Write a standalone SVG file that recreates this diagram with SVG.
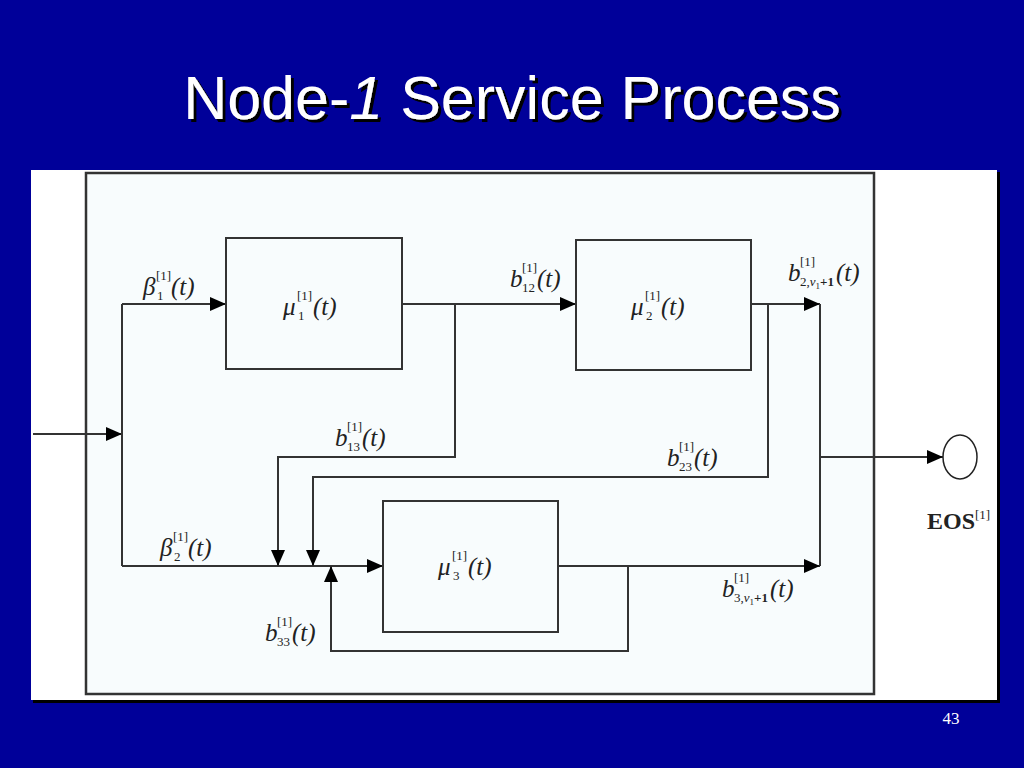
<svg xmlns="http://www.w3.org/2000/svg" width="1024" height="768" viewBox="0 0 1024 768">
<style>
.title{font-family:"Liberation Sans",Arial,sans-serif;font-size:61px;fill:#fff}
.m{font-family:"Liberation Serif","Times New Roman",serif;font-style:italic;font-size:25px;fill:#222}
.s{font-family:"Liberation Serif","Times New Roman",serif;font-size:13px;fill:#222}
.box{fill:none;stroke:#333;stroke-width:2}
.ln{fill:none;stroke:#333;stroke-width:2}
</style>
<defs>
<marker id="ar" viewBox="0 0 16 14" refX="16" refY="7" markerWidth="16" markerHeight="14" markerUnits="userSpaceOnUse" orient="auto">
<path d="M0,0 L16,7 L0,14 Z" fill="#000"/>
</marker>
<filter id="sh" x="-5%" y="-20%" width="110%" height="140%">
<feOffset in="SourceAlpha" dx="3" dy="3" result="o"/>
<feFlood flood-color="#000"/>
<feComposite in2="o" operator="in" result="s"/>
<feMerge><feMergeNode in="s"/><feMergeNode in="SourceGraphic"/></feMerge>
</filter>
</defs>
<rect x="0" y="0" width="1024" height="768" fill="#000099"/>
<text class="title" x="512" y="119" text-anchor="middle" filter="url(#sh)">Node-<tspan font-style="italic">1</tspan> Service Process</text>
<rect x="33" y="172" width="967" height="531" fill="#000"/>
<rect x="31" y="170" width="966" height="530" fill="#ffffff"/>
<rect x="86" y="173" width="788" height="521" fill="#f8fcfd" stroke="#333" stroke-width="2.5"/>

<g id="connectors">
<path class="ln" d="M33,434 H122" marker-end="url(#ar)"/>
<path class="ln" d="M122,304 V566"/>
<path class="ln" d="M122,304 H226" marker-end="url(#ar)"/>
<path class="ln" d="M122,566 H383" marker-end="url(#ar)"/>
<path class="ln" d="M402,304 H576" marker-end="url(#ar)"/>
<path class="ln" d="M455,304 V457 H278 V566" marker-end="url(#ar)"/>
<path class="ln" d="M751,304 H820" marker-end="url(#ar)"/>
<path class="ln" d="M768,304 V477 H313 V566" marker-end="url(#ar)"/>
<path class="ln" d="M820,304 V566"/>
<path class="ln" d="M820,457 H943" marker-end="url(#ar)"/>
<path class="ln" d="M558,566 H820" marker-end="url(#ar)"/>
<path class="ln" d="M628,566 V651 H331 V566" marker-end="url(#ar)"/>
</g>

<g id="node-mu1">
<rect class="box" x="226" y="238" width="176" height="131"/>
<text class="m" x="283" y="315">μ</text><text class="s" x="297" y="300">[1]</text><text class="s" x="298" y="320">1</text><text class="m" x="313" y="315">(t)</text>
</g>
<g id="node-mu2">
<rect class="box" x="576" y="240" width="175" height="130"/>
<text class="m" x="631" y="315">μ</text><text class="s" x="645" y="300">[1]</text><text class="s" x="646" y="320">2</text><text class="m" x="661" y="315">(t)</text>
</g>
<g id="node-mu3">
<rect class="box" x="383" y="501" width="175" height="131"/>
<text class="m" x="438" y="575">μ</text><text class="s" x="452" y="560">[1]</text><text class="s" x="453" y="580">3</text><text class="m" x="468" y="575">(t)</text>
</g>
<g id="node-eos">
<ellipse cx="960" cy="457" rx="17" ry="22" fill="#fff" stroke="#222" stroke-width="1.5"/>
<text x="927" y="529" font-family="Liberation Serif,'Times New Roman',serif" font-weight="bold" font-size="24" fill="#222">EOS<tspan font-size="13" font-weight="normal" dy="-10">[1]</tspan></text>
</g>

<g id="labels">
<text class="m" x="143" y="295">β</text><text class="s" x="156" y="280">[1]</text><text class="s" x="157" y="300">1</text><text class="m" x="171" y="295">(t)</text>
<text class="m" x="160" y="556">β</text><text class="s" x="173" y="541">[1]</text><text class="s" x="174" y="561">2</text><text class="m" x="188" y="556">(t)</text>
<text class="m" x="510" y="287">b</text><text class="s" x="522" y="272">[1]</text><text class="s" x="522" y="292">12</text><text class="m" x="537" y="287">(t)</text>
<text class="m" x="335" y="446">b</text><text class="s" x="347" y="431">[1]</text><text class="s" x="347" y="451">13</text><text class="m" x="362" y="446">(t)</text>
<text class="m" x="667" y="466">b</text><text class="s" x="679" y="451">[1]</text><text class="s" x="679" y="471">23</text><text class="m" x="694" y="466">(t)</text>
<text class="m" x="265" y="641">b</text><text class="s" x="277" y="626">[1]</text><text class="s" x="277" y="646">33</text><text class="m" x="292" y="641">(t)</text>
<text class="m" x="788" y="281">b</text><text class="s" x="800" y="266">[1]</text><text class="s" x="800" y="286">2,<tspan font-style="italic">v</tspan><tspan font-size="9" dy="3">1</tspan><tspan font-weight="bold" dy="-3">+1</tspan></text><text class="m" x="836" y="281">(t)</text>
<text class="m" x="722" y="597">b</text><text class="s" x="734" y="582">[1]</text><text class="s" x="734" y="602">3,<tspan font-style="italic">v</tspan><tspan font-size="9" dy="3">1</tspan><tspan font-weight="bold" dy="-3">+1</tspan></text><text class="m" x="770" y="597">(t)</text>
</g>
<text x="951" y="724" text-anchor="middle" font-family="Liberation Serif,'Times New Roman',serif" font-size="17" fill="#fff">43</text>
</svg>
